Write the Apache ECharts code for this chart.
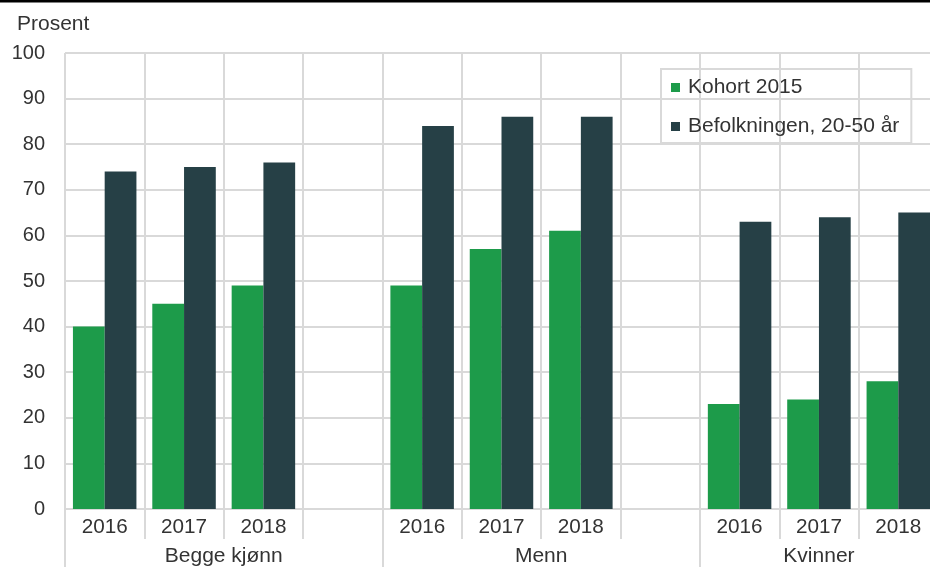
<!DOCTYPE html>
<html>
<head>
<meta charset="utf-8">
<script src="https://cdn.jsdelivr.net/npm/echarts@6/dist/echarts.min.js"></script>
<style>
html,body{margin:0;padding:0;background:#fff;}
#chart{width:930px;height:567px;}
</style>
</head>
<body>
<div id="chart"></div>
<script>
var years = ['2016', '2017', '2018', '', '2016', '2017', '2018', '', '2016', '2017', '2018'];
var groupNames = ['Begge kjønn', 'Menn', 'Kvinner'];
var groupCenters = [2, 6, 9.5];
var groupBounds = [0, 4, 8];
var kohort = [40, 45, 49, null, 49, 57, 61, null, 23, 24, 28];
var befolkning = [74, 75, 76, null, 84, 86, 86, null, 63, 64, 65];
var yTicks = { min: 0, max: 100, interval: 10 };

var FONT = '"Liberation Sans", Arial, sans-serif';
var TXT = '#333333';
var GRID = '#d9d9d9';

var chart = echarts.init(document.getElementById('chart'));
chart.setOption({
  animation: false,
  textStyle: { fontFamily: FONT },
  title: {
    text: 'Prosent', left: 12, top: 9,
    textStyle: { fontFamily: FONT, fontSize: 21, fontWeight: 'normal', color: TXT }
  },
  graphic: [{
    type: 'rect', left: 0, top: 0, shape: { width: 930, height: 2.5 },
    style: { fill: '#000' }
  }],
  legend: {
    orient: 'vertical', left: 661, top: 69,
    borderColor: GRID, borderWidth: 2, borderRadius: 0,
    padding: [8, 12, 6, 10],
    itemWidth: 9, itemHeight: 9, itemGap: 18,
    icon: 'rect',
    textStyle: { fontFamily: FONT, fontSize: 21, color: TXT, padding: [0, 0, 0, 3] },
    data: ['Kohort 2015', 'Befolkningen, 20-50 år']
  },
  grid: { left: 65, width: 873, top: 53, bottom: 58, containLabel: false, outerBoundsMode: 'none' },
  xAxis: [{
    type: 'category', data: years, position: 'bottom',
    axisLine: { show: true, lineStyle: { color: GRID, width: 2 } },
    axisTick: { show: true, interval: 0, length: 30, lineStyle: { color: GRID, width: 2 } },
    splitLine: { show: true, interval: 0, lineStyle: { color: GRID, width: 2 } },
    axisLabel: { interval: 0, margin: 8, fontSize: 20.7, color: TXT, fontFamily: FONT }
  }, {
    type: 'value', position: 'bottom', min: 0, max: years.length,
    axisLine: { show: false },
    splitLine: { show: false },
    axisTick: { show: true, customValues: groupBounds, length: 62, lineStyle: { color: GRID, width: 2 } },
    axisLabel: {
      customValues: groupCenters, margin: 37, fontSize: 21, color: TXT, fontFamily: FONT,
      formatter: function (v) {
        var i = groupCenters.indexOf(v);
        return i >= 0 ? groupNames[i] : '';
      }
    }
  }],
  yAxis: {
    type: 'value', min: yTicks.min, max: yTicks.max, interval: yTicks.interval,
    axisLine: { show: false }, axisTick: { show: false },
    splitLine: { show: true, lineStyle: { color: GRID, width: 2 } },
    axisLabel: { margin: 20, fontSize: 20, color: TXT, fontFamily: FONT }
  },
  series: [{
    name: 'Kohort 2015', type: 'bar', data: kohort, xAxisIndex: 0,
    barGap: '0%', barCategoryGap: '20%',
    itemStyle: { color: '#1d9b4a' }
  }, {
    name: 'Befolkningen, 20-50 år', type: 'bar', data: befolkning, xAxisIndex: 0,
    barGap: '0%', barCategoryGap: '20%',
    itemStyle: { color: '#264046' }
  }]
});
</script>
</body>
</html>
